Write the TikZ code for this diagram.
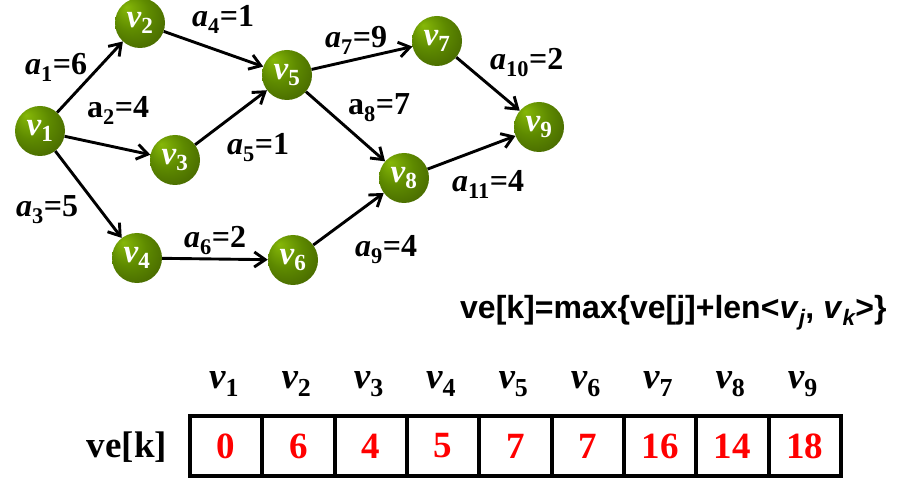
\documentclass[tikz,border=0pt]{standalone}
\usepackage{fontspec}
\setmainfont{Liberation Serif}
\newfontfamily\formfont{Liberation Sans}
\usetikzlibrary{arrows.meta}
\definecolor{gl}{HTML}{86B808}
\definecolor{gm}{HTML}{5E8A00}
\definecolor{gd}{HTML}{3A5600}
\definecolor{numred}{HTML}{FF0000}
\pgfdeclareradialshading{gball}{\pgfpoint{-14bp}{16bp}}{color(0bp)=(gl); color(18bp)=(gm); color(44bp)=(gd); color(50bp)=(gd)}
\newcommand\vsub[2]{{\bfseries\itshape #1}\textsubscript{\bfseries\upshape #2}}
\newcommand\rsub[2]{{\bfseries #1}\textsubscript{\bfseries\upshape #2}}
\tikzset{
  vert/.style={circle, minimum size=50pt, inner sep=0pt, shading=gball, text=white,
    font=\fontsize{33}{35}\selectfont},
  edge/.style={line width=2.9pt, -{Straight Barb[length=11pt,width=15pt,line width=2.9pt]}},
  elab/.style={anchor=base west, inner sep=0pt, font=\fontsize{32}{34}\selectfont\bfseries},
  cell/.style={draw, line width=3.8pt, minimum width=72.33pt, minimum height=60pt, inner sep=0pt,
    text=numred, font=\fontsize{37}{39}\selectfont\bfseries},
  head/.style={anchor=base, inner sep=0pt, font=\fontsize{37}{39}\selectfont},
}
\begin{document}
\begin{tikzpicture}[x=1pt,y=-1pt]
\useasboundingbox (0,0) rectangle (899,486);
% vertices
\node[vert] (v1) at (40,131) {\vsub{v}{1}};
\node[vert] (v2) at (140,23) {\vsub{v}{2}};
\node[vert] (v3) at (175,160) {\vsub{v}{3}};
\node[vert] (v4) at (137,258) {\vsub{v}{4}};
\node[vert] (v5) at (287,75) {\vsub{v}{5}};
\node[vert] (v6) at (293,260) {\vsub{v}{6}};
\node[vert] (v7) at (437,41) {\vsub{v}{7}};
\node[vert] (v8) at (404,178) {\vsub{v}{8}};
\node[vert] (v9) at (539,127) {\vsub{v}{9}};
% edges
\draw[edge] (v1) -- (v2);
\draw[edge] (v1) -- (v3);
\draw[edge] (v1) -- (v4);
\draw[edge] (v2) -- (v5);
\draw[edge] (v3) -- (v5);
\draw[edge] (v4) -- (v6);
\draw[edge] (v5) -- (v7);
\draw[edge] (v5) -- (v8);
\draw[edge] (v6) -- (v8);
\draw[edge] (v7) -- (v9);
\draw[edge] (v8) -- (v9);
% edge labels
\node[elab] (l1) at (25,75) {\vsub{a}{1}=6};
\node[elab] (l2) at (87,118) {\rsub{a}{2}=4};
\node[elab] (l3) at (16,217) {\vsub{a}{3}=5};
\node[elab] (l4) at (192,27) {\vsub{a}{4}=1};
\node[elab] (l5) at (227,155) {\vsub{a}{5}=1};
\node[elab] (l6) at (184,248) {\vsub{a}{6}=2};
\node[elab] (l7) at (325,48) {\vsub{a}{7}=9};
\node[elab] (l8) at (348,115) {\rsub{a}{8}=7};
\node[elab] (l9) at (355,257) {\vsub{a}{9}=4};
\node[elab] (l10) at (490,70) {\vsub{a}{10}=2};
\node[elab] (l11) at (452,192) {\vsub{a}{11}=4};
% formula
\node[anchor=base west, inner sep=0pt, font=\formfont\fontsize{32}{34}\selectfont\bfseries] (f) at (460,318)
  {ve[k]=max\{ve[j]+len<\textit{v}\textsubscript{\itshape j}, \textit{v}\textsubscript{\itshape k}>\}};
% table
\node[anchor=base, inner sep=0pt, font=\fontsize{37}{39}\selectfont\bfseries] (ve) at (127,457) {ve[k]};
\foreach \i/\n in {1/0,2/6,3/4,4/5,5/7,6/7,7/16,8/14,9/18}{
  \node[cell] (c\i) at ({190+72.33*(\i-0.5)},446) {\n};
  \node[head] (h\i) at ({190+72.33*(\i-0.5)-2},388) {\vsub{v}{\i}};
}
\end{tikzpicture}
\end{document}
